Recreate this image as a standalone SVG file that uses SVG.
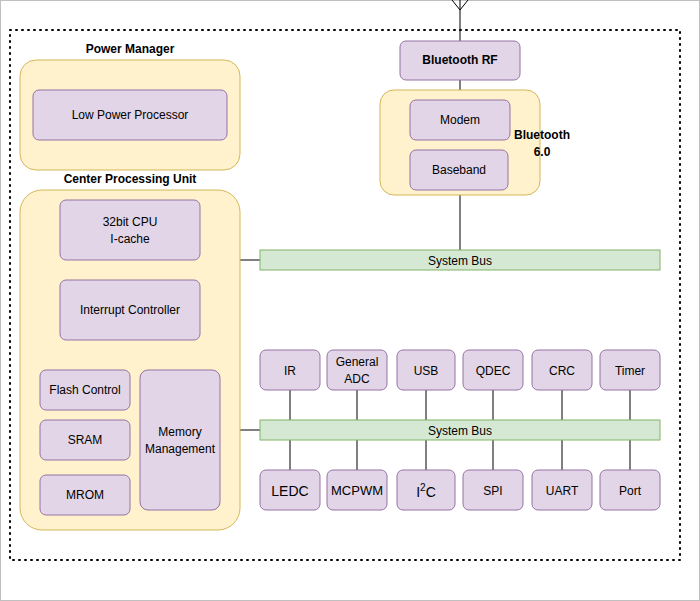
<svg xmlns="http://www.w3.org/2000/svg" width="700" height="601" viewBox="0 0 700 601">
<style>
.n{fill:#e1d5e7;stroke:#9673a6;stroke-width:1}
.g{fill:#fff2cc;stroke:#d6b656;stroke-width:1}
.b{fill:#d5e8d4;stroke:#82b366;stroke-width:1}
text{font-family:"Liberation Sans",Arial,sans-serif;font-size:12px;fill:#000;text-anchor:middle}
.t{font-weight:bold}
.l{stroke:#000;stroke-width:1;fill:none}
</style>
<rect x="0.5" y="0.5" width="699" height="600" fill="#fff" stroke="#c0c0c0"/>
<rect x="10" y="30" width="670" height="530" fill="none" stroke="#000" stroke-width="2" stroke-dasharray="1 5" stroke-linecap="round"/>
<g id="connectors">
<path class="l" d="M460 0V41M452 0L460 10L468 0M460 80V90M460 195V250M240 260H260M240 430H260"/>
<path class="l" d="M290 390V470M357 390V470M426 390V470M493 390V470M562 390V470M630 390V470"/>
</g>
<g id="power"><text class="t" x="130" y="53">Power Manager</text><rect class="g" x="20" y="60" width="220" height="110" rx="16"/></g>
<g id="lpp"><rect class="n" x="33" y="90" width="194" height="50" rx="6"/><text x="130" y="119">Low Power Processor</text></g>
<g id="cpu-group"><text class="t" x="130" y="183">Center Processing Unit</text><rect class="g" x="20" y="190" width="220" height="340" rx="22"/></g>
<g id="cpu"><rect class="n" x="60" y="200" width="140" height="60" rx="6"/><text x="130" y="226">32bit CPU</text><text x="130" y="243">I-cache</text></g>
<g id="intc"><rect class="n" x="60" y="280" width="140" height="60" rx="6"/><text x="130" y="314">Interrupt Controller</text></g>
<g id="flash"><rect class="n" x="40" y="370" width="90" height="40" rx="6"/><text x="85" y="394">Flash Control</text></g>
<g id="sram"><rect class="n" x="40" y="420" width="90" height="40" rx="6"/><text x="85" y="444">SRAM</text></g>
<g id="mrom"><rect class="n" x="40" y="475" width="90" height="40" rx="6"/><text x="85" y="499">MROM</text></g>
<g id="mmu"><rect class="n" x="140" y="370" width="80" height="140" rx="8"/><text x="180" y="436">Memory</text><text x="180" y="453">Management</text></g>
<g id="btrf"><rect class="n" x="400" y="41" width="120" height="39" rx="6"/><text class="t" x="460" y="64">Bluetooth RF</text></g>
<g id="bt"><rect class="g" x="380" y="90" width="160" height="105" rx="14"/><text class="t" x="542" y="139" text-anchor="start">Bluetooth</text><text class="t" x="542" y="156" text-anchor="start">6.0</text></g>
<g id="modem"><rect class="n" x="410" y="100" width="100" height="40" rx="6"/><text x="460" y="124">Modem</text></g>
<g id="baseband"><rect class="n" x="410" y="150" width="98" height="40" rx="6"/><text x="459" y="174">Baseband</text></g>
<g id="bus1"><rect class="b" x="260" y="250" width="400" height="20"/><text x="460" y="265">System Bus</text></g>
<g id="bus2"><rect class="b" x="260" y="420" width="400" height="20"/><text x="460" y="435">System Bus</text></g>
<g id="ir"><rect class="n" x="260" y="350" width="60" height="40" rx="6"/><text x="290" y="375">IR</text></g>
<g id="adc"><rect class="n" x="327" y="350" width="60" height="40" rx="6"/><text x="357" y="366">General</text><text x="357" y="383">ADC</text></g>
<g id="usb"><rect class="n" x="397" y="350" width="58" height="40" rx="6"/><text x="426" y="375">USB</text></g>
<g id="qdec"><rect class="n" x="463" y="350" width="60" height="40" rx="6"/><text x="493" y="375">QDEC</text></g>
<g id="crc"><rect class="n" x="532" y="350" width="60" height="40" rx="6"/><text x="562" y="375">CRC</text></g>
<g id="timer"><rect class="n" x="600" y="350" width="60" height="40" rx="6"/><text x="630" y="375">Timer</text></g>
<g id="ledc"><rect class="n" x="260" y="470" width="60" height="40" rx="6"/><text x="290" y="496" style="font-size:14px">LEDC</text></g>
<g id="mcpwm"><rect class="n" x="327" y="470" width="60" height="40" rx="6"/><text x="357" y="495" style="font-size:13px">MCPWM</text></g>
<g id="i2c"><rect class="n" x="397" y="470" width="58" height="40" rx="6"/><text x="426" y="497" style="font-size:14px">I<tspan dy="-6" font-size="10">2</tspan><tspan dy="6">C</tspan></text></g>
<g id="spi"><rect class="n" x="463" y="470" width="60" height="40" rx="6"/><text x="493" y="495">SPI</text></g>
<g id="uart"><rect class="n" x="532" y="470" width="60" height="40" rx="6"/><text x="562" y="495">UART</text></g>
<g id="port"><rect class="n" x="600" y="470" width="60" height="40" rx="6"/><text x="630" y="495">Port</text></g>
</svg>
